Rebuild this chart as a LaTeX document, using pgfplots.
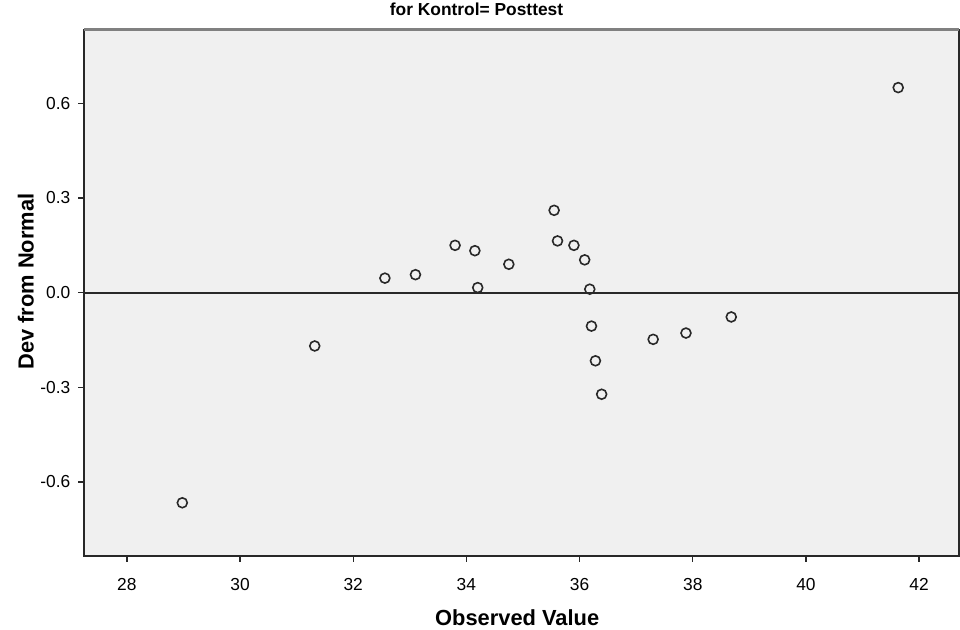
\documentclass[border=0pt]{standalone}
\usepackage{fontspec}
\setmainfont{Liberation Sans}
\usepackage{pgfplots}
\pgfplotsset{compat=1.18}
\definecolor{plotbg}{RGB}{240,240,240}
\definecolor{ink}{RGB}{40,40,40}
\begin{document}
\begin{tikzpicture}
\begin{axis}[
  name=ax,
  scale only axis,
  width=880.65pt, height=530pt,
  xmin=27.25, xmax=42.7,
  ymin=-0.834, ymax=0.834,
  axis background/.style={fill=plotbg},
  axis line style={ink, line width=2pt},
  tick pos=left,
  tick align=outside,
  major tick length=6pt,
  tick style={ink, line width=1.4pt},
  xtick={28,30,...,42},
  xticklabels={28,30,32,34,36,38,40,42},
  ytick={-0.6,-0.3,0,0.3,0.6},
  yticklabels={-0.6,-0.3,0.0,0.3,0.6},
  ticklabel style={font=\fontsize{17.5}{20}\selectfont},
  xticklabel style={anchor=center, yshift=-23pt},
  yticklabel style={anchor=east, inner sep=0pt, xshift=-8pt},
  title={for Kontrol= Posttest},
  title style={font=\bfseries\fontsize{17.5}{20}\selectfont, at={([yshift=14pt]axis description cs:0.4485,1)}, anchor=center},
  xlabel={Observed Value},
  xlabel style={font=\bfseries\fontsize{22}{25}\selectfont, at={([yshift=-62pt]axis description cs:0.495,0)}, anchor=center},
  ylabel={Dev from Normal},
  ylabel style={font=\bfseries\fontsize{22}{25}\selectfont, at={([xshift=-59pt]axis description cs:0,0.5208)}, anchor=center},
]
% reference line at zero
\addplot[ink, line width=2pt, forget plot] coordinates {(27.25,0) (42.7,0)};
% detrended values
\addplot[only marks, mark=o, mark size=5pt, mark options={ink, line width=1.6pt}] coordinates {
(28.98,-0.666) (31.32,-0.169) (32.56,0.046) (33.10,0.057) (33.80,0.150)
(34.15,0.133) (34.20,0.016) (34.75,0.090) (35.55,0.261) (35.61,0.164)
(35.90,0.150) (36.09,0.104) (36.18,0.011) (36.21,-0.106) (36.28,-0.216)
(36.39,-0.322) (37.30,-0.148) (37.88,-0.128) (38.68,-0.077) (41.63,0.650)
};
\end{axis}
\draw[gray, line width=2.5pt] (ax.north west) -- (ax.north east);
\path[use as bounding box] ([shift={(-85pt,-74pt)}]ax.south west) rectangle ([shift={(875pt,558pt)}]ax.south west);
\end{tikzpicture}
\end{document}
